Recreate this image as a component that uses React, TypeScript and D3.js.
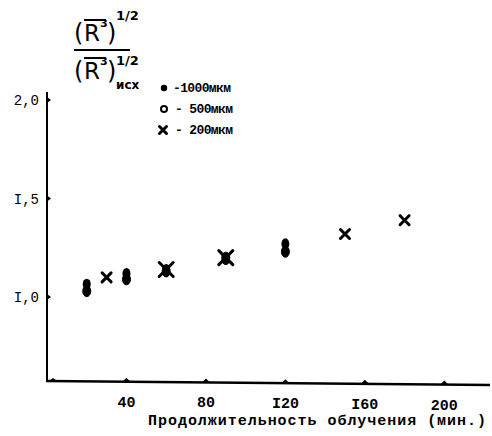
import React from 'react';
import * as d3 from 'd3';

// duration of irradiation (min) vs relative size, three grain sizes
const series1000: [number, number][] = [[20, 1.065], [40, 1.12], [60, 1.14], [90, 1.19], [120, 1.27]];
const series500: [number, number][] = [[20, 1.03], [40, 1.09], [60, 1.13], [90, 1.2], [120, 1.23]];
const series200: [number, number][] = [[30, 1.1], [60, 1.14], [90, 1.2], [150, 1.32], [180, 1.39]];

const xTicks = [40, 80, 120, 160, 200];
const xTickLabels = ['40', '80', 'I20', 'I60', '200'];
const yTicks = [1.0, 1.5, 2.0];
const yTickLabels = ['I,0', 'I,5', '2,0'];
const legendLabels = ['-1000мкм', '- 500мкм', '- 200мкм'];
const xTitle = 'Продолжительность облучения (мин.)';

const W = 492;
const H = 436;
const font = '"Liberation Mono", "DejaVu Sans Mono", monospace';

const Cross = ({ cx, cy, s = 4.5 }: { cx: number; cy: number; s?: number }) => (
  <path
    d={`M${cx - s},${cy - s}L${cx + s},${cy + s}M${cx - s},${cy + s}L${cx + s},${cy - s}`}
    stroke="#000"
    strokeWidth={3}
    strokeLinecap="round"
  />
);

export default function App() {
  const x = d3.scaleLinear().domain([0, 223]).range([47, 490]);
  const y = d3.scaleLinear().domain([0.574, 2.0]).range([381, 100]);
  const x0 = x(0);
  const y0 = y(0.574);

  return (
    <svg width={W} height={H} style={{ display: 'block', position: 'absolute', left: 0, top: 0 }}>
      <rect width={W} height={H} fill="#fff" />

      {/* axes */}
      <line x1={x0} y1={y(2.04)} x2={x0} y2={y0 + 1} stroke="#000" strokeWidth={2} />
      <line x1={x0 - 1} y1={y0} x2={x.range()[1]} y2={y0 + 4} stroke="#000" strokeWidth={2.5} />

      {/* x ticks (small triangles) and labels */}
      {xTicks.map((t, i) => {
        const px = x(t);
        const py = y0 + (4 * (px - x0)) / (x.range()[1] - x0);
        return (
          <g key={t}>
            <path d={`M${px - 4},${py}L${px},${py - 4}L${px + 4},${py}Z`} fill="#000" />
            <text x={px} y={py + 25} textAnchor="middle" fontFamily={font} fontSize={15} fontWeight="bold">
              {xTickLabels[i]}
            </text>
          </g>
        );
      })}
      <path d={`M${x0 + 2},${y0}L${x0 + 6},${y0 - 3}L${x0 + 10},${y0}Z`} fill="#000" />

      {/* y ticks and labels */}
      {yTicks.map((t, i) => (
        <g key={t}>
          <path d={`M${x0},${y(t) - 3}L${x0 + 4},${y(t)}L${x0},${y(t) + 3}Z`} fill="#000" />
          <text x={x0 - 8} y={y(t) + 5} textAnchor="end" fontFamily={font} fontSize={14}>
            {yTickLabels[i]}
          </text>
        </g>
      ))}

      {/* y title: fraction */}
      <g fontFamily='"DejaVu Sans", sans-serif' fill="#000">
        <text x={74} y={41} fontSize={24}>(</text>
        <text x={84} y={41} fontSize={23}>R</text>
        <text x={100} y={27} fontSize={11} fontWeight="bold">3</text>
        <text x={107} y={41} fontSize={24}>)</text>
        <text x={116} y={20} fontSize={13} fontWeight="bold">1/2</text>
        <line x1={84} y1={20} x2={106} y2={20} stroke="#000" strokeWidth={2} />
        <line x1={74} y1={50} x2={130} y2={50} stroke="#000" strokeWidth={2} />
        <text x={74} y={79} fontSize={24}>(</text>
        <text x={84} y={79} fontSize={23}>R</text>
        <text x={100} y={65} fontSize={11} fontWeight="bold">3</text>
        <text x={107} y={79} fontSize={24}>)</text>
        <text x={116} y={65} fontSize={13} fontWeight="bold">1/2</text>
        <text x={116} y={89} fontSize={12} fontWeight="bold">исх</text>
        <line x1={84} y1={58} x2={106} y2={58} stroke="#000" strokeWidth={2} />
      </g>

      {/* legend */}
      <g fontFamily={font} fontSize={13} fontWeight="bold">
        <circle cx={164} cy={88} r={3.2} fill="#000" />
        <text x={173} y={92} textLength={58}>{legendLabels[0]}</text>
        <circle cx={164} cy={109} r={3} fill="none" stroke="#000" strokeWidth={2} />
        <text x={175} y={113} textLength={58}>{legendLabels[1]}</text>
        <Cross cx={163} cy={130} s={3.5} />
        <text x={175} y={134} textLength={58}>{legendLabels[2]}</text>
      </g>

      {/* data */}
      {series1000.map(([a, b], i) => (
        <ellipse key={'a' + i} cx={x(a)} cy={y(b)} rx={4} ry={5.5} fill="#000" />
      ))}
      {series500.map(([a, b], i) => (
        <ellipse key={'b' + i} cx={x(a)} cy={y(b)} rx={4} ry={5.5} fill="#000" stroke="#000" strokeWidth={1} />
      ))}
      {series200.map(([a, b], i) => (
        <Cross key={'c' + i} cx={x(a)} cy={y(b)} s={a % 30 === 0 && a <= 90 && a > 30 ? 7 : 4.5} />
      ))}

      {/* x title */}
      <text x={148} y={425} fontFamily={font} fontSize={15} fontWeight="bold" textLength={338}>
        {xTitle}
      </text>
    </svg>
  );
}
